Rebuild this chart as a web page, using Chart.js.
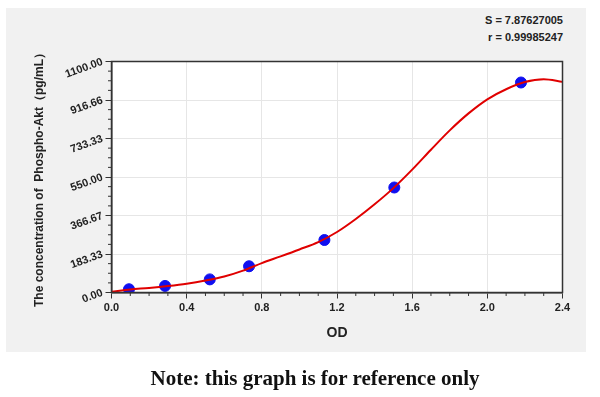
<!DOCTYPE html>
<html>
<head>
<meta charset="utf-8">
<script src="https://cdn.jsdelivr.net/npm/chart.js@4"></script>
<style>
  body { margin: 0; background: #fff; }
  #wrap { position: relative; width: 600px; height: 397px; overflow: hidden; }
  #panel { position: absolute; left: 6px; top: 8px; width: 580px; height: 344px; background: #f1f1f1; }
  #chart { position: absolute; left: 0; top: 0; }
  .stat { position: absolute; right: 37px; font: bold 11px "Liberation Sans", Arial, sans-serif; color: #222; }
  #note { position: absolute; left: 15px; width: 600px; top: 366px; text-align: center;
          font: bold 21px "Liberation Serif", "DejaVu Serif", serif; color: #111; }
</style>
</head>
<body>
<div id="wrap">
  <div id="panel"></div>
  <div class="stat" style="top:14px">S = 7.87627005</div>
  <div class="stat" style="top:31px">r = 0.99985247</div>
  <canvas id="chart" width="600" height="397"></canvas>
  <div id="note">Note: this graph is for reference only</div>
</div>
<script>
// standards (OD vs concentration)
const odValues = [0.093, 0.285, 0.523, 0.732, 1.133, 1.505, 2.179];
const concValues = [15.6, 31.25, 62.5, 125, 250, 500, 1000];

// fitted curve
const curveOd = [0, 0.1, 0.2, 0.3, 0.4, 0.5, 0.6, 0.7, 0.8, 0.9, 1.0, 1.1, 1.2, 1.3, 1.4, 1.5, 1.6, 1.7, 1.8, 1.9, 2.0, 2.1, 2.2, 2.3, 2.4];
const curveConc = [4, 14.5, 22, 31, 42, 57, 76, 104, 140, 172, 205, 240, 288, 350, 420, 497, 585, 680, 772, 853, 920, 968, 1002, 1015, 1003];

// axis ticks
const xTickValues = [0, 0.4, 0.8, 1.2, 1.6, 2.0, 2.4];
const xTickLabels = ["0.0", "0.4", "0.8", "1.2", "1.6", "2.0", "2.4"];
const yTickValues = [0, 183.33, 366.67, 550, 733.33, 916.66, 1100];
const yTickLabels = ["0.00", "183.33", "366.67", "550.00", "733.33", "916.66", "1100.00"];

const FONT = "'Liberation Sans', Arial, sans-serif";

// white plot area, frame and minor ticks
const framePlugin = {
  id: "frame",
  beforeDraw(chart) {
    const { ctx, chartArea: a } = chart;
    ctx.save();
    ctx.fillStyle = "#fff";
    ctx.fillRect(a.left, a.top, a.right - a.left, a.bottom - a.top);
    ctx.restore();
  },
  afterDraw(chart) {
    const { ctx, chartArea: a, scales } = chart;
    ctx.save();
    ctx.strokeStyle = "#333";
    ctx.lineWidth = 1.5;
    ctx.strokeRect(a.left, a.top, a.right - a.left, a.bottom - a.top);
    ctx.lineWidth = 1;
    ctx.beginPath();
    for (let i = 1; i < 24; i++) {
      if (i % 4 === 0) continue;
      const x = scales.x.getPixelForValue(i * 0.1);
      ctx.moveTo(x, a.bottom);
      ctx.lineTo(x, a.bottom + 3.5);
    }
    for (let i = 1; i < 24; i++) {
      if (i % 4 === 0) continue;
      const y = scales.y.getPixelForValue(i * 1100 / 24);
      ctx.moveTo(a.left, y);
      ctx.lineTo(a.left - 3.5, y);
    }
    ctx.stroke();
    ctx.restore();
  }
};

new Chart(document.getElementById("chart"), {
  type: "scatter",
  data: {
    datasets: [
      {
        type: "line",
        data: curveOd.map((x, i) => ({ x, y: curveConc[i] })),
        borderColor: "#e00000",
        borderWidth: 2,
        pointRadius: 0,
        cubicInterpolationMode: "monotone",
        fill: false,
      },
      {
        data: odValues.map((x, i) => ({ x, y: concValues[i] })),
        backgroundColor: "#1010f0",
        borderColor: "#1010f0",
        pointRadius: 5.5,
      },
    ],
  },
  options: {
    responsive: false,
    animation: false,
    devicePixelRatio: 1,
    layout: { padding: { left: 32, top: 61.5, right: 37.5, bottom: 55.5 } },
    plugins: { legend: { display: false }, tooltip: { enabled: false } },
    scales: {
      x: {
        type: "linear",
        min: 0,
        max: 2.4,
        afterBuildTicks: (s) => { s.ticks = xTickValues.map((v) => ({ value: v })); },
        afterFit: (s) => { s.height = 49; },
        ticks: {
          callback: (v, i) => xTickLabels[i],
          font: { family: FONT, size: 11, weight: "bold" },
          color: "#222",
          padding: 3,
          maxRotation: 0,
        },
        grid: { color: "#e6e6e6", tickColor: "#333", tickLength: 6 },
        border: { color: "#333", width: 1.5 },
        title: {
          display: true,
          text: "OD",
          font: { family: FONT, size: 14, weight: "bold" },
          color: "#222",
          padding: 0,
        },
      },
      y: {
        type: "linear",
        min: 0,
        max: 1100,
        afterBuildTicks: (s) => { s.ticks = yTickValues.map((v) => ({ value: v })); },
        afterFit: (s) => { s.width = 79.5; },
        ticks: {
          callback: (v, i) => yTickLabels[i],
          font: { family: FONT, size: 11, weight: "bold" },
          color: "#222",
          padding: 3,
          minRotation: 20,
          maxRotation: 20,
        },
        grid: { color: "#e6e6e6", tickColor: "#333", tickLength: 6 },
        border: { color: "#333", width: 1.5 },
        title: {
          display: true,
          text: "The concentration of  Phospho-Akt（pg/mL）",
          font: { family: FONT, size: 12, weight: "bold" },
          color: "#222",
          padding: 0,
        },
      },
    },
  },
  plugins: [framePlugin],
});
</script>
</body>
</html>
